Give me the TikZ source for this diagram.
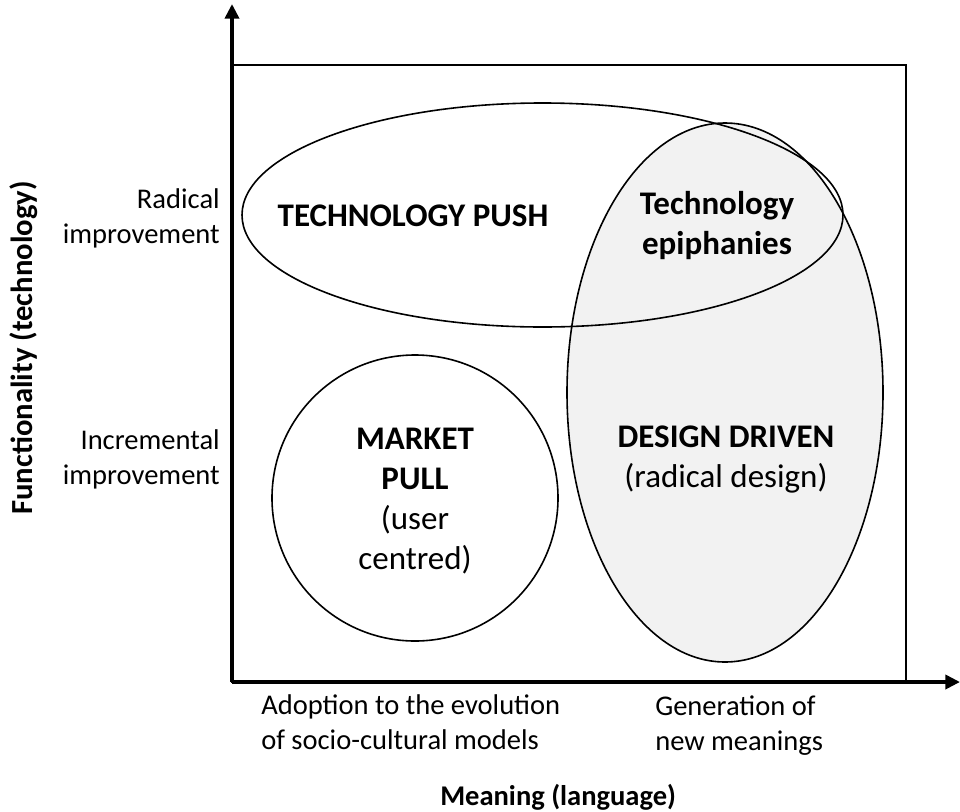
\documentclass[tikz,border=0pt]{standalone}
\usepackage{fontspec}
\setmainfont{Carlito}
\usetikzlibrary{arrows.meta,positioning}
\definecolor{regionfill}{HTML}{F2F2F2}

\begin{document}
\begin{tikzpicture}[x=0.75pt,y=-0.75pt,
    axis/.style={line width=3pt,-{Triangle[length=11pt,width=10.5pt]}},
    region/.style={draw=black,line width=1.2pt},
    inner/.style={font=\fontsize{24.75}{30}\selectfont,align=center,inner sep=0pt},
    levellbl/.style={font=\fontsize{21.4}{26.25}\selectfont,inner sep=0pt},
    title/.style={font=\fontsize{21.4}{26.25}\selectfont\bfseries,inner sep=0pt}]
    \useasboundingbox (0,0) rectangle (960,811);
    % frame and axes
    \coordinate (o) at (232,682);
    \coordinate (ytip) at (232,4);
    \coordinate (xtip) at (960,682);
    \coordinate (corner) at (906,65);
    \draw[line width=1.2pt] (o) rectangle (corner);
    \draw[axis] (o) -- (ytip);
    \draw[axis] (o) -- (xtip);
    % regions
    \draw[region,fill=regionfill] (725,392.5) ellipse [x radius=158,y radius=269.5];
    \draw[region] (542.5,215) ellipse [x radius=300.5,y radius=112];
    \draw[region] (415,498) circle [radius=143];
    % region labels
    \node[inner,font=\fontsize{24.75}{30}\selectfont\bfseries] (push) at (413,216) {TECHNOLOGY PUSH};
    \node[inner] (epiph) at (717,226) {\textbf{Technology}\\\textbf{epiphanies}};
    \node[inner] (pull) at (415,501) {\textbf{MARKET}\\\textbf{PULL}\\(user\\centred)};
    \node[inner] (design) at (726,460) {\textbf{DESIGN DRIVEN}\\(radical design)};
    % axis labels
    \node[levellbl,anchor=east,align=right] (radical) at (220,218) {Radical\\improvement};
    \node[levellbl,anchor=east,align=right] (increm) at (220,459.5) {Incremental\\improvement};
    \node[levellbl,anchor=west,align=left] (adopt) at (261,722.5) {Adoption to the evolution\\of socio-cultural models};
    \node[levellbl,anchor=west,align=left] (generate) at (655,726) {Generation of\\new meanings};
    \node[title,anchor=west] (meaning) at (440,797) {Meaning (language)};
    \node[title,font=\fontsize{23}{28}\selectfont\bfseries,rotate=90] (function) at (24,348) {Functionality (technology)};
\end{tikzpicture}
\end{document}
